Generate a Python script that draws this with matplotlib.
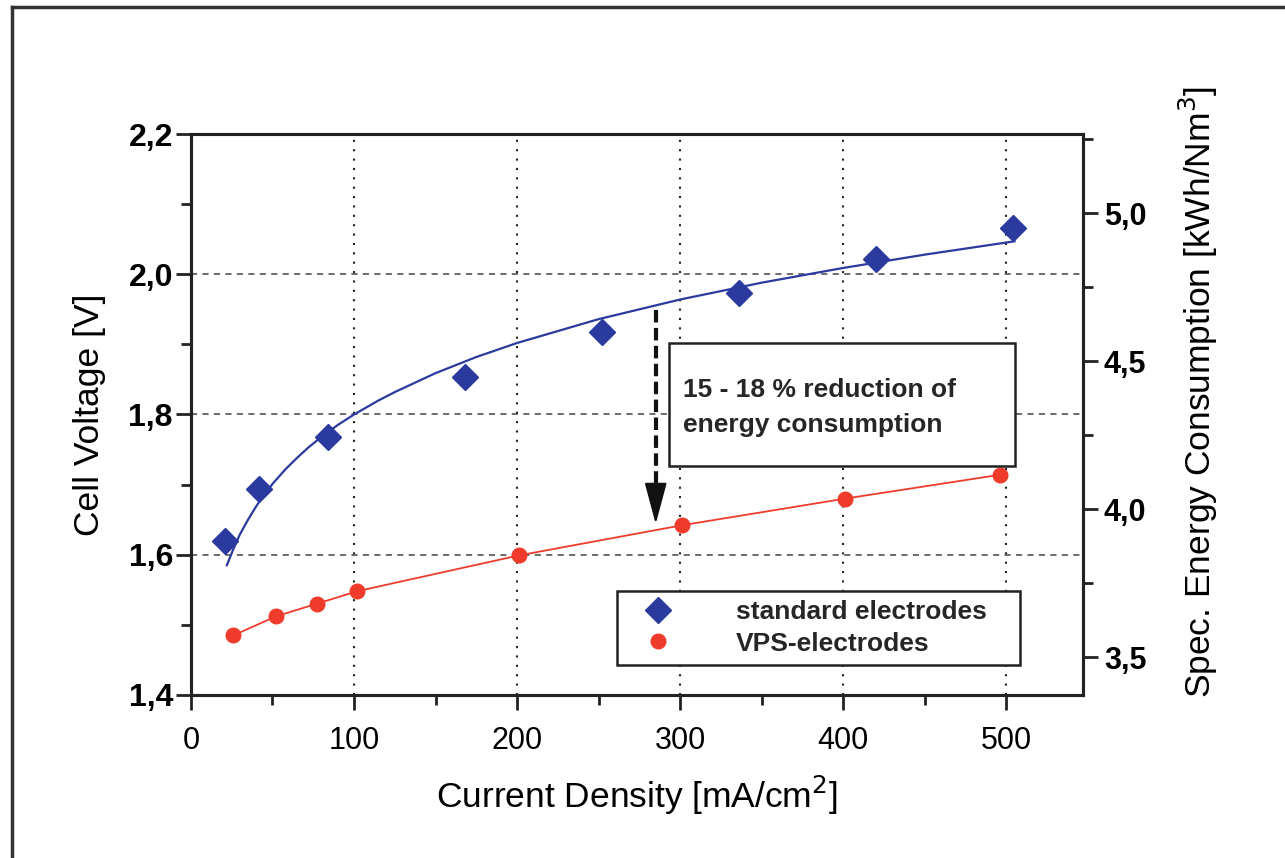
import numpy as np
import matplotlib
matplotlib.use("Agg")
import matplotlib.pyplot as plt
from matplotlib.ticker import MultipleLocator, FuncFormatter
from matplotlib.lines import Line2D
from matplotlib.patches import Rectangle

plt.rcParams['font.family'] = ['Liberation Sans', 'DejaVu Sans']

# standard electrodes (measured points)
std_j = [21, 42, 84, 168, 252, 336, 420, 504]
std_v = [1.620, 1.694, 1.768, 1.853, 1.918, 1.973, 2.022, 2.066]

# fitted curve through the standard electrode data
fit_j = [22, 26, 30, 35, 40, 45, 50, 58, 65, 72, 80, 90, 100, 115, 125, 150, 175,
         200, 250, 300, 350, 400, 450, 505]
fit_v = [1.585, 1.608, 1.629, 1.650, 1.669, 1.686, 1.701, 1.722, 1.738, 1.753,
         1.768, 1.785, 1.800, 1.820, 1.832, 1.859, 1.882, 1.902, 1.936, 1.964,
         1.988, 2.009, 2.028, 2.047]

# VPS electrodes
vps_j = [26, 52, 77, 102, 201, 301, 401, 496]
vps_v = [1.485, 1.512, 1.530, 1.548, 1.599, 1.642, 1.680, 1.714]

BLUE = '#2b3a9e'
RED = '#ef3b2c'
INK = '#222222'

def comma(v, pos):
    return f"{v:.1f}".replace('.', ',')

fig = plt.figure(figsize=(12.85, 8.58), dpi=100)
ax = fig.add_axes([0.1486, 0.19, 0.6942, 0.6538])

ax.plot(fit_j, fit_v, color=BLUE, lw=1.6, zorder=3)
ax.plot(vps_j, vps_v, color=RED, lw=1.3, zorder=3)
ax.plot(std_j, std_v, ls='none', marker='D', ms=13, color=BLUE, zorder=4,
        label='standard electrodes')
ax.plot(vps_j, vps_v, ls='none', marker='o', ms=10.5, color=RED, zorder=4,
        label='VPS-electrodes')

ax.set_xlim(0, 547)
ax.set_ylim(1.4, 2.2)
ax.xaxis.set_major_locator(MultipleLocator(100))
ax.xaxis.set_minor_locator(MultipleLocator(50))
ax.yaxis.set_major_locator(MultipleLocator(0.2))
ax.yaxis.set_minor_locator(MultipleLocator(0.1))
ax.yaxis.set_major_formatter(FuncFormatter(comma))

# grid: dotted verticals, dashed horizontals
for xv in [100, 200, 300, 400, 500]:
    ax.axvline(xv, color='#222222', lw=1.5, ls=(0, (1.0, 3.5)), zorder=1)
for yv in [1.6, 1.8, 2.0]:
    ax.axhline(yv, color='#444444', lw=1.1, ls=(0, (4, 3.5)), zorder=1)

for s in ax.spines.values():
    s.set_linewidth(2.2)
    s.set_color(INK)
ax.tick_params(which='major', direction='out', length=11, width=2, color=INK)
ax.tick_params(which='minor', direction='out', length=7, width=2, color=INK)
ax.tick_params(axis='x', labelsize=22, pad=11)
ax.tick_params(axis='y', labelsize=23, pad=2)
for lab in ax.get_yticklabels():
    lab.set_fontweight('bold')

ax.set_xlabel('Current Density [mA/cm$^2$]', fontsize=25.5)
ax.set_ylabel('Cell Voltage [V]', fontsize=25.5)
ax.xaxis.set_label_coords(0.5, -0.14)
ax.yaxis.set_label_coords(-0.095, 0.5)

ax2 = ax.twinx()
ax2.set_ylim(3.372, 5.268)
ax2.yaxis.set_major_locator(MultipleLocator(0.5))
ax2.yaxis.set_minor_locator(MultipleLocator(0.25))
ax2.yaxis.set_major_formatter(FuncFormatter(comma))
for s in ax2.spines.values():
    s.set_linewidth(2.2)
    s.set_color(INK)
ax2.tick_params(which='major', direction='out', length=11, width=2, labelsize=22,
                color=INK, pad=4)
ax2.tick_params(which='minor', direction='out', length=7, width=2, color=INK)
for lab in ax2.get_yticklabels():
    lab.set_fontweight('bold')
ax2.set_ylabel('Spec. Energy Consumption [kWh/Nm$^3$]', fontsize=25.5)
ax2.yaxis.set_label_coords(1.105, 0.54)

# annotation box and arrow
box_x0, box_x1 = 293, 505.5
box_y0, box_y1 = 1.727, 1.902
ax.add_patch(Rectangle((box_x0, box_y0), box_x1 - box_x0, box_y1 - box_y0,
                       facecolor='white', edgecolor=INK, lw=1.8, zorder=5))
ax.text(302, 1.835, '15 - 18 % reduction of', fontsize=19, fontweight='bold',
        va='center', ha='left', color='#262626', zorder=6)
ax.text(302, 1.785, 'energy consumption', fontsize=19, fontweight='bold',
        va='center', ha='left', color='#262626', zorder=6)

arr_x = 285
ax.plot([arr_x, arr_x], [1.949, 1.68], color='#111111', lw=3, ls=(0, (3, 1.3)), zorder=5)
ax.annotate('', xy=(arr_x, 1.640), xytext=(arr_x, 1.684),
            arrowprops=dict(arrowstyle='-|>,head_length=1.3,head_width=0.35',
                            color='#111111', lw=1.5, mutation_scale=20), zorder=5)

leg = ax.legend(loc='lower left', bbox_to_anchor=(0.4776, 0.0535, 0.4514, 0.1425),
                mode='expand', borderaxespad=0, frameon=True,
                prop={'size': 19, 'weight': 'bold'},
                fancybox=False, edgecolor=INK, framealpha=1,
                borderpad=0.35, handlelength=2.4, handletextpad=1.75, labelspacing=0.3)
leg.get_frame().set_linewidth(1.8)
for t in leg.get_texts():
    t.set_color('#262626')
leg.set_zorder(6)

# outer frame of the scanned figure
fig.add_artist(Line2D([12 / 1285, 12 / 1285], [0, 1 - 7 / 858], color='#333333', lw=2.5))
fig.add_artist(Line2D([12 / 1285, 1], [1 - 7 / 858, 1 - 7 / 858], color='#333333', lw=2.5))

fig.savefig('out.png', dpi=100)
